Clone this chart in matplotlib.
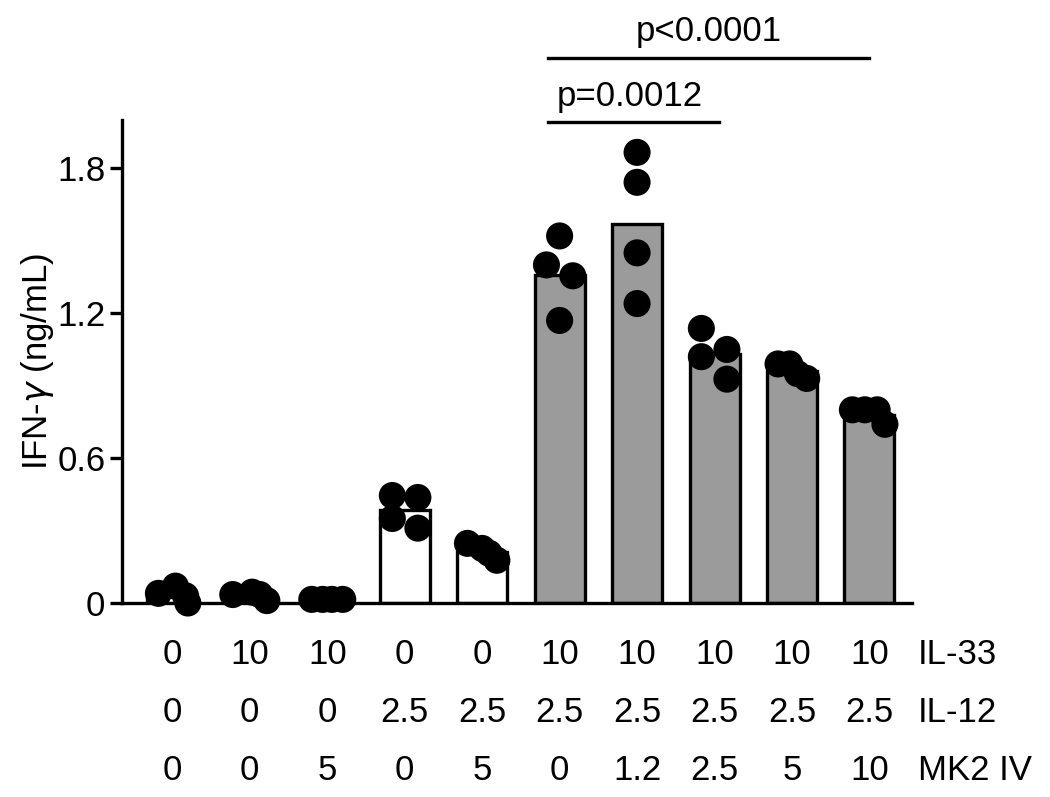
import matplotlib.pyplot as plt
import matplotlib.transforms as mtrans
import numpy as np

plt.rcParams['font.family'] = ['Liberation Sans', 'DejaVu Sans']

# group table (rows under the x axis)
il33 = ['0', '10', '10', '0', '0', '10', '10', '10', '10', '10']
il12 = ['0', '0', '0', '2.5', '2.5', '2.5', '2.5', '2.5', '2.5', '2.5']
mk2 = ['0', '0', '5', '0', '5', '0', '1.2', '2.5', '5', '10']
row_names = ['IL-33', 'IL-12', 'MK2 IV']

# bar heights (mean IFN-g, ng/mL)
means = [0.035, 0.03, 0.015, 0.385, 0.21, 1.36, 1.57, 1.03, 0.96, 0.78]
gray_bar = [False] * 5 + [True] * 5

# individual replicates
points = [
    [0.04, 0.07, 0.03, 0.0],
    [0.035, 0.045, 0.035, 0.01],
    [0.015, 0.015, 0.015, 0.015],
    [0.445, 0.437, 0.35, 0.31],
    [0.247, 0.226, 0.206, 0.177],
    [1.52, 1.40, 1.355, 1.17],
    [1.866, 1.742, 1.45, 1.24],
    [1.137, 1.02, 1.05, 0.927],
    [0.99, 0.99, 0.95, 0.93],
    [0.80, 0.80, 0.80, 0.74],
]
# horizontal spread of the replicate dots inside each bar
jitter = [
    [-0.18, 0.04, 0.17, 0.2],
    [-0.22, 0.03, 0.13, 0.22],
    [-0.2, -0.06, 0.06, 0.2],
    [-0.16, 0.17, -0.16, 0.17],
    [-0.19, 0.0, 0.09, 0.19],
    [0.0, -0.17, 0.17, 0.0],
    [0.0, 0.0, 0.0, 0.0],
    [-0.17, -0.17, 0.16, 0.16],
    [-0.18, -0.03, 0.07, 0.19],
    [-0.22, -0.06, 0.1, 0.2],
]

FS = 25

fig = plt.figure(figsize=(10.5, 7.97), dpi=100)
ax = fig.add_axes([0.1162, 0.2434, 0.8686 - 0.1162, 0.8494 - 0.2434])

x = np.arange(1, len(means) + 1)
colors = ['#9b9b9b' if g else 'white' for g in gray_bar]
ax.bar(x, means, width=0.645, color=colors, edgecolor='black', linewidth=2.4, zorder=2)
for i in range(len(points)):
    ax.scatter(x[i] + np.array(jitter[i]), points[i], s=380, color='black',
               edgecolor='none', zorder=3, clip_on=False)

ax.set_xlim(0.35, 10.55)
ax.set_ylim(0, 2.0)
ax.set_yticks([0, 0.6, 1.2, 1.8])
ax.set_yticklabels(['0', '0.6', '1.2', '1.8'])
ax.set_xticks([])
for s in ['top', 'right']:
    ax.spines[s].set_visible(False)
for s in ['left', 'bottom']:
    ax.spines[s].set_linewidth(2.4)
ax.tick_params(axis='y', length=9, width=2.4, labelsize=FS, pad=3)
ax.set_ylabel('IFN-$\\gamma$ (ng/mL)', fontsize=FS, labelpad=1)

# table under the axis
rows = [il33, il12, mk2]
row_y = [655, 713, 771]
trans = mtrans.blended_transform_factory(ax.transData, fig.transFigure)
for r, vals in enumerate(rows):
    yy = 1 - row_y[r] / 797
    for i, v in enumerate(vals):
        ax.text(x[i], yy, v, transform=trans, ha='center', va='center', fontsize=FS)
    fig.text(918 / 1050, yy, row_names[r], ha='left', va='center', fontsize=FS)

# significance brackets
ax.plot([5.85, 10.0], [2.257, 2.257], color='black', lw=2.4, clip_on=False)
ax.text(7.92, 2.30, 'p<0.0001', ha='center', va='bottom', fontsize=FS)
ax.plot([5.85, 8.06], [1.99, 1.99], color='black', lw=2.4, clip_on=False)
ax.text(6.9, 2.03, 'p=0.0012', ha='center', va='bottom', fontsize=FS)

fig.savefig('out.png', dpi=100)
